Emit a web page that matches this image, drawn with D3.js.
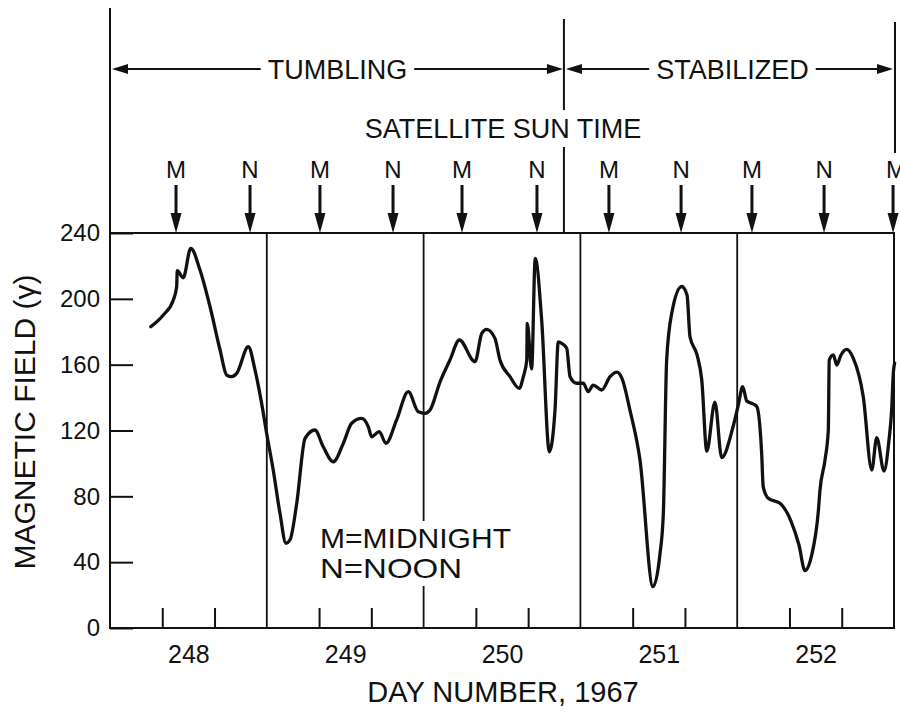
<!DOCTYPE html>
<html>
<head>
<meta charset="utf-8">
<script src="https://cdn.jsdelivr.net/npm/d3@7"></script>
<style>
  html, body { margin: 0; padding: 0; background: #fff; }
  svg { display: block; }
  text { font-family: "Liberation Sans", Arial, sans-serif; fill: #111; }
</style>
</head>
<body>
<script>
// ---------------- DATA ----------------
const dayNumbers = [248, 249, 250, 251, 252];
const dayLabels = ["248", "249", "250", "251", "252"];
const yTickValues = [0, 40, 80, 120, 160, 200, 240];
const yTickLabels = ["0", "40", "80", "120", "160", "200", "240"];

// Magnetic field trace (day number, gamma)
const traceDays = [
  248.260, 248.340, 248.404, 248.425, 248.429, 248.467, 248.515, 248.574, 248.638, 248.702,
  248.744, 248.776, 248.808, 248.882, 248.925, 248.967, 248.999, 249.041, 249.084, 249.122,
  249.148, 249.191, 249.244, 249.307, 249.360, 249.424, 249.488, 249.541, 249.605, 249.647,
  249.669, 249.717, 249.760, 249.828, 249.902, 249.966, 250.009, 250.041, 250.105, 250.168,
  250.228, 250.328, 250.371, 250.402, 250.455, 250.487, 250.551, 250.610, 250.636, 250.658,
  250.661, 250.689, 250.712, 250.753, 250.802, 250.838, 250.859, 250.881, 250.913, 250.934,
  250.976, 251.018, 251.050, 251.082, 251.136, 251.189, 251.233, 251.265, 251.316, 251.380,
  251.463, 251.508, 251.529, 251.550, 251.584, 251.646, 251.680, 251.699, 251.744, 251.774,
  251.806, 251.858, 251.901, 251.973, 252.007, 252.035, 252.061, 252.103, 252.126, 252.156,
  252.166, 252.198, 252.273, 252.343, 252.394, 252.432, 252.475, 252.517, 252.528, 252.560,
  252.581, 252.587, 252.613, 252.635, 252.662, 252.698, 252.740, 252.804, 252.858, 252.890,
  252.936, 252.968, 252.985, 252.996, 253.004
];
const traceField = [
  183.0, 190.2, 199.3, 207.4, 217.1, 212.8, 230.7, 217.5, 195.2, 168.9,
  153.7, 152.7, 154.7, 170.9, 156.7, 136.5, 118.3, 96.0, 69.7, 51.5,
  53.5, 75.8, 115.2, 120.3, 110.1, 101.0, 112.2, 124.4, 127.4, 122.3,
  116.2, 119.3, 112.2, 126.4, 143.6, 131.4, 130.4, 132.4, 149.6, 162.8,
  175.0, 161.8, 179.0, 181.5, 176.0, 162.8, 152.7, 145.6, 152.7, 162.8,
  185.1, 157.4, 224.6, 187.1, 107.1, 132.4, 173.9, 173.0, 169.9, 152.7,
  148.7, 148.7, 143.6, 147.6, 144.6, 152.7, 155.5, 151.7, 132.4, 102.1,
  25.1, 45.4, 69.7, 162.8, 192.0, 207.5, 202.3, 177.0, 165.9, 150.7,
  107.5, 137.3, 103.6, 122.1, 135.5, 146.6, 137.9, 136.1, 134.3, 106.1,
  85.8, 78.8, 75.8, 65.0, 50.4, 34.9, 44.3, 70.5, 83.8, 102.1,
  120.3, 162.8, 165.9, 159.8, 165.9, 169.3, 164.0, 140.5, 96.0, 115.7,
  95.4, 114.2, 132.4, 155.5, 161.0
];

// Satellite sun time markers
const sunLabels = ["M", "N", "M", "N", "M", "N", "M", "N", "M", "N", "M"];
const sunDays = [248.421, 248.893, 249.339, 249.805, 250.245, 250.723, 251.182, 251.642, 252.094, 252.554, 252.994];

// Attitude phases
const phaseNames = ["TUMBLING", "STABILIZED"];
const phaseBounds = [248.0, 250.895, 253.0];

const legendLines = ["M=MIDNIGHT", "N=NOON"];
const headerTitle = "SATELLITE SUN TIME";
const xTitle = "DAY NUMBER, 1967";
const yTitle = "MAGNETIC FIELD (γ)";

// ---------------- CHART ----------------
const W = 900, H = 712;
const svg = d3.select("body").append("svg").attr("width", W).attr("height", H);
svg.append("rect").attr("width", W).attr("height", H).attr("fill", "#fff");

const x = d3.scaleLinear().domain([248, 253]).range([110, 894]);
const y = d3.scaleLinear().domain([0, 240]).range([628, 233]);
const ink = "#111";

// Day boundary lines inside plot
const dayLines = svg.append("g");
dayNumbers.slice(1).forEach(d => {
  dayLines.append("line")
    .attr("x1", x(d)).attr("x2", x(d))
    .attr("y1", y(240)).attr("y2", y(0))
    .attr("stroke", ink).attr("stroke-width", 1.8);
});

// Minor ticks (thirds of a day) along bottom, pointing inward
const minorTicks = [];
dayNumbers.forEach(d => { minorTicks.push(d + 1/3, d + 2/3); });
svg.append("g")
  .attr("transform", `translate(0,${y(0)})`)
  .call(d3.axisBottom(x).tickValues(minorTicks).tickSize(-20).tickFormat(""))
  .call(g => g.select(".domain").remove())
  .call(g => g.selectAll("line").attr("stroke", ink).attr("stroke-width", 2));

// Day labels centred in each day
svg.append("g")
  .attr("transform", `translate(0,${y(0)})`)
  .call(d3.axisBottom(x).tickValues(dayNumbers.map(d => d + 0.5))
        .tickSize(0).tickPadding(17).tickFormat((d, i) => dayLabels[i]))
  .call(g => g.select(".domain").remove())
  .call(g => g.selectAll("text").style("font-size", "25px")
        .style("font-family", "'Liberation Sans', Arial, sans-serif").attr("fill", ink));

// Y axis
svg.append("g")
  .attr("transform", `translate(${x(248)},0)`)
  .call(d3.axisLeft(y).tickValues(yTickValues).tickSize(-23).tickPadding(10)
        .tickFormat((d, i) => yTickLabels[i]))
  .call(g => g.select(".domain").remove())
  .call(g => g.selectAll("line").attr("stroke", ink).attr("stroke-width", 2))
  .call(g => g.selectAll("text").style("font-size", "24px")
        .style("font-family", "'Liberation Sans', Arial, sans-serif").attr("fill", ink));

// Legend with white knock-out behind it
const leg = svg.append("g");
const legBg = leg.append("rect").attr("fill", "#fff");
leg.selectAll("text").data(legendLines).join("text")
  .attr("x", 320).attr("y", (d, i) => 548 + i * 30)
  .style("font-size", "28px")
  .attr("textLength", (d, i) => i === 0 ? 191 : 142)
  .attr("lengthAdjust", "spacingAndGlyphs")
  .text(d => d);
const lb = leg.node().getBBox();
legBg.attr("x", lb.x - 4).attr("y", lb.y - 2).attr("width", lb.width + 8).attr("height", lb.height + 4);

// Frame
svg.append("rect")
  .attr("x", x(248)).attr("y", y(240))
  .attr("width", x(253) - x(248)).attr("height", y(0) - y(240))
  .attr("fill", "none").attr("stroke", ink).attr("stroke-width", 2);

// Trace
const line = d3.line()
  .x((d, i) => x(traceDays[i]))
  .y((d, i) => y(traceField[i]))
  .curve(d3.curveMonotoneX);
svg.append("path")
  .attr("d", line(traceDays))
  .attr("fill", "none").attr("stroke", ink)
  .attr("stroke-width", 3.3).attr("stroke-linejoin", "round").attr("stroke-linecap", "round");

// Axis titles
svg.append("text")
  .attr("x", (x(248) + x(253)) / 2 + 1).attr("y", 702)
  .attr("text-anchor", "middle").style("font-size", "29px")
  .text(xTitle);
svg.append("text")
  .attr("transform", `translate(35,${422}) rotate(-90)`)
  .attr("text-anchor", "middle").style("font-size", "30px")
  .text(yTitle);

// ---------------- HEADER ----------------
const hdr = svg.append("g");
hdr.append("line").attr("x1", x(phaseBounds[0])).attr("x2", x(phaseBounds[0]))
  .attr("y1", 8).attr("y2", y(240)).attr("stroke", ink).attr("stroke-width", 2);
hdr.append("line").attr("x1", x(phaseBounds[1])).attr("x2", x(phaseBounds[1]))
  .attr("y1", 19).attr("y2", 110).attr("stroke", ink).attr("stroke-width", 2);
hdr.append("line").attr("x1", x(phaseBounds[1])).attr("x2", x(phaseBounds[1]))
  .attr("y1", 147).attr("y2", y(240)).attr("stroke", ink).attr("stroke-width", 2);
hdr.append("line").attr("x1", x(phaseBounds[2]) + 1).attr("x2", x(phaseBounds[2]) + 1)
  .attr("y1", 22).attr("y2", 153).attr("stroke", ink).attr("stroke-width", 2);

const arrowY = 69;
function headLeft(px) {
  return `M${px},${arrowY} L${px + 16},${arrowY - 5} L${px + 16},${arrowY + 5} Z`;
}
function headRight(px) {
  return `M${px},${arrowY} L${px - 16},${arrowY - 5} L${px - 16},${arrowY + 5} Z`;
}
phaseNames.forEach((name, i) => {
  const a = x(phaseBounds[i]) + 2, b = x(phaseBounds[i + 1]) - 1;
  const cx = (a + b) / 2 + (i === 1 ? 3 : 0);
  const t = hdr.append("text").attr("x", cx).attr("y", arrowY + 10)
    .attr("text-anchor", "middle").style("font-size", "27px").text(name);
  const tw = t.node().getComputedTextLength();
  hdr.append("line").attr("x1", a + 10).attr("x2", cx - tw / 2 - 7)
    .attr("y1", arrowY).attr("y2", arrowY).attr("stroke", ink).attr("stroke-width", 2.2);
  hdr.append("line").attr("x1", cx + tw / 2 + 7).attr("x2", b - 10)
    .attr("y1", arrowY).attr("y2", arrowY).attr("stroke", ink).attr("stroke-width", 2.2);
  hdr.append("path").attr("d", headLeft(a)).attr("fill", ink);
  hdr.append("path").attr("d", headRight(b)).attr("fill", ink);
});

hdr.append("text").attr("x", 503).attr("y", 138)
  .attr("text-anchor", "middle").style("font-size", "27px").text(headerTitle);

// Sun-time markers
const sun = hdr.selectAll("g.sun").data(sunDays).join("g").attr("class", "sun")
  .attr("transform", d => `translate(${x(d)},0)`);
sun.append("text").attr("x", 0).attr("y", 178)
  .attr("text-anchor", (d, i) => i === sunDays.length - 1 ? "start" : "middle")
  .attr("dx", (d, i) => i === sunDays.length - 1 ? -7 : 0)
  .style("font-size", "24px")
  .text((d, i) => sunLabels[i]);
sun.append("line").attr("x1", 0).attr("x2", 0).attr("y1", 185).attr("y2", 216)
  .attr("stroke", ink).attr("stroke-width", 3);
sun.append("path").attr("d", `M-5.5,213 L5.5,213 L0,${y(240)} Z`).attr("fill", ink);
</script>
</body>
</html>
